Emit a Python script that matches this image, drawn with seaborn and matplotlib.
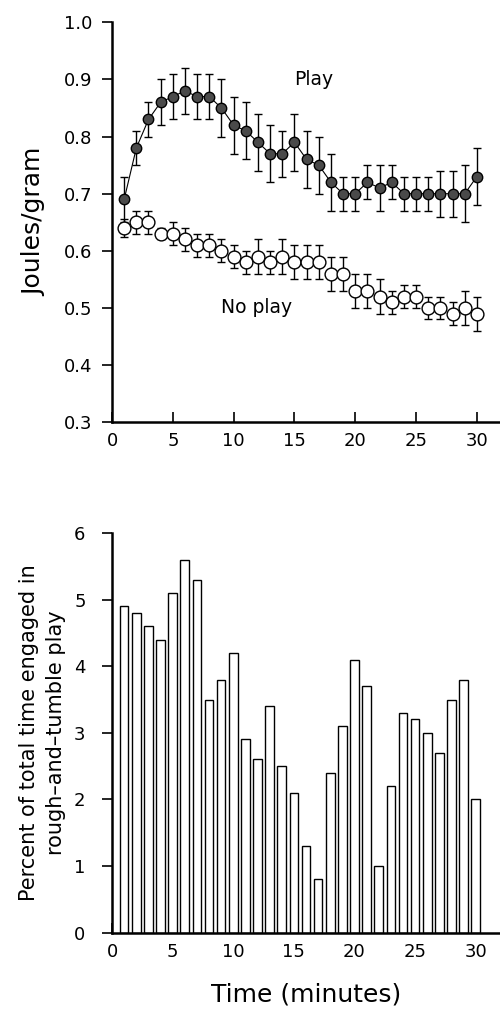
import numpy as np
import pandas as pd
import matplotlib
matplotlib.use('Agg')
import matplotlib.pyplot as plt
import seaborn as sns

# minutes 1..30
minutes = list(range(1, 31))

# joules/gram, play condition (mean and error)
play_mean = [0.69, 0.78, 0.83, 0.86, 0.87, 0.88, 0.87, 0.87, 0.85, 0.82,
             0.81, 0.79, 0.77, 0.77, 0.79, 0.76, 0.75, 0.72, 0.70, 0.70,
             0.72, 0.71, 0.72, 0.70, 0.70, 0.70, 0.70, 0.70, 0.70, 0.73]
play_err = [0.04, 0.03, 0.03, 0.04, 0.04, 0.04, 0.04, 0.04, 0.05, 0.05,
            0.05, 0.05, 0.05, 0.04, 0.05, 0.05, 0.05, 0.05, 0.03, 0.03,
            0.03, 0.04, 0.03, 0.03, 0.03, 0.03, 0.04, 0.04, 0.05, 0.05]

# joules/gram, no play condition
noplay_mean = [0.64, 0.65, 0.65, 0.63, 0.63, 0.62, 0.61, 0.61, 0.60, 0.59,
               0.58, 0.59, 0.58, 0.59, 0.58, 0.58, 0.58, 0.56, 0.56, 0.53,
               0.53, 0.52, 0.51, 0.52, 0.52, 0.50, 0.50, 0.49, 0.50, 0.49]
noplay_err = [0.015, 0.02, 0.02, 0.01, 0.02, 0.02, 0.02, 0.02, 0.02, 0.02,
              0.02, 0.03, 0.02, 0.03, 0.03, 0.03, 0.03, 0.03, 0.03, 0.03,
              0.03, 0.03, 0.02, 0.02, 0.02, 0.02, 0.02, 0.02, 0.03, 0.03]

# percent of time in rough-and-tumble play
rt_play = [4.9, 4.8, 4.6, 4.4, 5.1, 5.6, 5.3, 3.5, 3.8, 4.2,
           2.9, 2.6, 3.4, 2.5, 2.1, 1.3, 0.8, 2.4, 3.1, 4.1,
           3.7, 1.0, 2.2, 3.3, 3.2, 3.0, 2.7, 3.5, 3.8, 2.0]

df = pd.DataFrame({'minute': minutes, 'play': play_mean, 'noplay': noplay_mean,
                   'rt': rt_play})

sns.set_theme(style='ticks')
plt.rcParams['font.family'] = ['DejaVu Sans']
plt.rcParams['text.color'] = 'black'
plt.rcParams['axes.labelcolor'] = 'black'
plt.rcParams['xtick.color'] = 'black'
plt.rcParams['ytick.color'] = 'black'
plt.rcParams['xtick.major.size'] = 7
plt.rcParams['ytick.major.size'] = 7
plt.rcParams['xtick.major.width'] = 1.2
plt.rcParams['ytick.major.width'] = 1.2

fig = plt.figure(figsize=(5, 10.15), dpi=100)
ax1 = fig.add_axes([0.224, 0.584, 0.776, 0.394])
ax2 = fig.add_axes([0.224, 0.081, 0.776, 0.394])

# -------- top panel: energy expenditure
ax1.errorbar(df['minute'], df['noplay'], yerr=noplay_err, fmt='none',
             ecolor='black', elinewidth=1, capsize=3, capthick=1, zorder=2)
ax1.errorbar(df['minute'], df['play'], yerr=play_err, fmt='none',
             ecolor='black', elinewidth=1, capsize=3, capthick=1, zorder=2)
sns.lineplot(data=df, x='minute', y='play', ax=ax1, color='black',
             linewidth=0.8, marker='o', markersize=7.5,
             markerfacecolor='#4a4a4a', markeredgecolor='black',
             markeredgewidth=1, zorder=3)
sns.scatterplot(data=df, x='minute', y='noplay', ax=ax1, s=85,
                facecolor='white', edgecolor='black', linewidth=1, zorder=3)

ax1.text(16.6, 0.9, 'Play', fontsize=13.5, ha='center', va='center')
ax1.text(11.9, 0.5, 'No play', fontsize=13.5, ha='center', va='center')

ax1.set_xlim(0, 31.9)
ax1.set_ylim(0.3, 1.0)
ax1.set_xticks(range(0, 31, 5))
ax1.set_yticks(np.arange(0.3, 1.01, 0.1))
ax1.set_yticklabels([f'{v:.1f}' for v in np.arange(0.3, 1.01, 0.1)])
ax1.set_xlabel('')
ax1.set_ylabel('Joules/gram', fontsize=18, labelpad=13)
ax1.tick_params(axis='y', labelsize=13, pad=7)
ax1.tick_params(axis='x', labelsize=13, pad=7, direction='in')

# -------- bottom panel: rough-and-tumble play
sns.barplot(data=df, x='minute', y='rt', ax=ax2, native_scale=True,
            width=0.72, color='white', edgecolor='black', linewidth=1,
            errorbar=None)
ax2.set_xlim(0, 32)
ax2.set_ylim(0, 6)
ax2.set_xticks(range(0, 31, 5))
ax2.set_yticks(range(0, 7))
ax2.set_xlabel('Time (minutes)', fontsize=18, labelpad=16)
ax2.set_ylabel('Percent of total time engaged in\nrough\u2013and\u2013tumble play',
               fontsize=15, labelpad=6, linespacing=1.45)
ax2.tick_params(axis='y', labelsize=13, pad=12)
ax2.tick_params(axis='x', labelsize=13, pad=7, direction='in')

for ax in (ax1, ax2):
    sns.despine(ax=ax)
    ax.spines['left'].set_linewidth(1.8)
    ax.spines['bottom'].set_linewidth(1.8)
    ax.spines['left'].set_color('black')
    ax.spines['bottom'].set_color('black')

fig.savefig('out.png', dpi=100)
